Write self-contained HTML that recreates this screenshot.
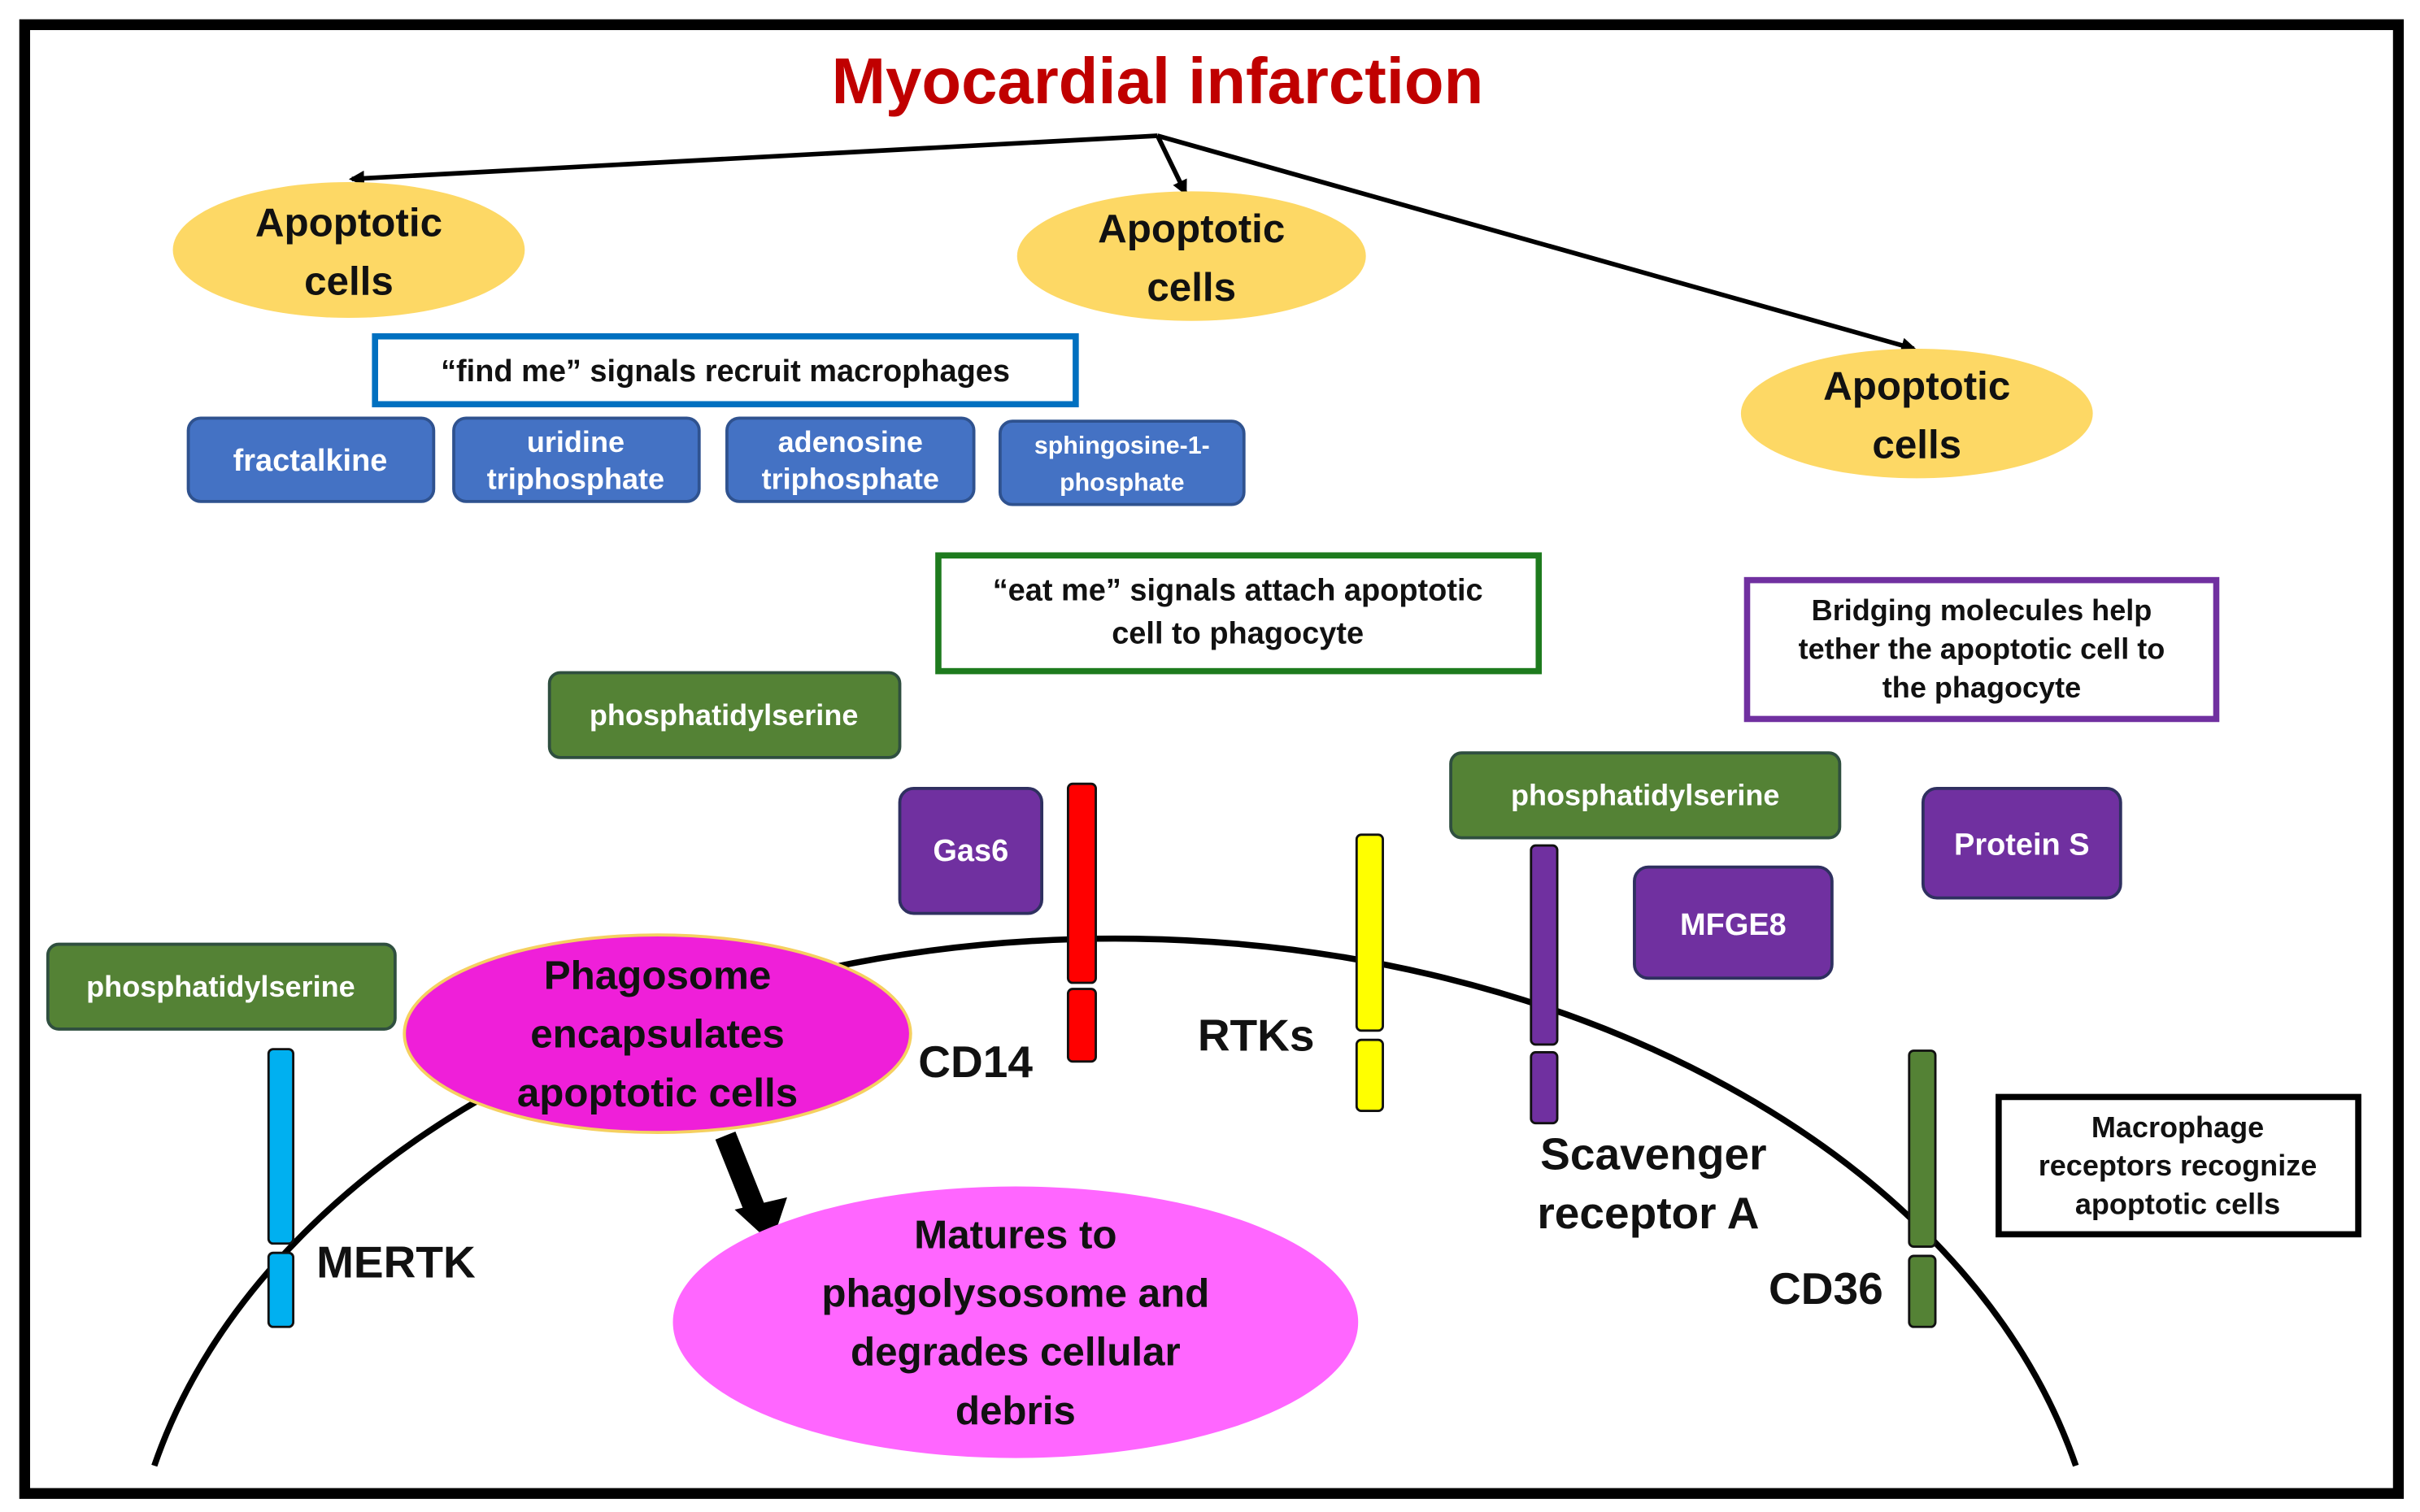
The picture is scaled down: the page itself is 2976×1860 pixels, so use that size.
<!DOCTYPE html>
<html><head><meta charset="utf-8"><style>
html,body{margin:0;padding:0;background:#fff;}
svg{display:block;}
text{font-family:"Liberation Sans",sans-serif;font-weight:bold;text-anchor:middle;}
</style></head><body>
<svg width="2976" height="1860" viewBox="0 0 1568 980" xmlns="http://www.w3.org/2000/svg">
<defs>
<marker id="ah" markerWidth="10" markerHeight="10" refX="8" refY="5" orient="auto" markerUnits="userSpaceOnUse"><path d="M0,0 L10,5 L0,10 z" fill="#000"/></marker>
</defs>
<rect x="0" y="0" width="1568" height="980" fill="#fff"/>
<rect x="16" y="16" width="1538" height="952" fill="none" stroke="#000" stroke-width="7"/>
<text x="750" y="67" font-size="42" fill="#c00000">Myocardial infarction</text>
<g stroke="#000" stroke-width="3" fill="none" marker-end="url(#ah)">
<line x1="750" y1="88" x2="228" y2="116"/>
<line x1="750" y1="88" x2="768" y2="125"/>
<line x1="750" y1="88" x2="1240" y2="226"/>
</g>
<g fill="#fdd865">
<ellipse cx="226" cy="162" rx="114" ry="44"/>
<ellipse cx="772" cy="166" rx="113" ry="42"/>
<ellipse cx="1242" cy="268" rx="114" ry="42"/>
</g>
<g font-size="26" fill="#111">
<text x="226" y="153">Apoptotic</text><text x="226" y="191">cells</text>
<text x="772" y="157">Apoptotic</text><text x="772" y="195">cells</text>
<text x="1242" y="259">Apoptotic</text><text x="1242" y="297">cells</text>
</g>
<rect x="243" y="218" width="454" height="44" fill="#fff" stroke="#0070c0" stroke-width="4"/>
<text x="470" y="247" font-size="20" fill="#111">“find me” signals recruit macrophages</text>
<g fill="#4472c4" stroke="#2f528f" stroke-width="2">
<rect x="122" y="271" width="159" height="54" rx="8"/>
<rect x="294" y="271" width="159" height="54" rx="8"/>
<rect x="471" y="271" width="160" height="54" rx="8"/>
<rect x="648" y="273" width="158" height="54" rx="8"/>
</g>
<g fill="#fff">
<text x="201" y="305" font-size="20">fractalkine</text>
<text x="373" y="293" font-size="19">uridine</text><text x="373" y="317" font-size="19">triphosphate</text>
<text x="551" y="293" font-size="19">adenosine</text><text x="551" y="317" font-size="19">triphosphate</text>
<text x="727" y="294" font-size="16">sphingosine-1-</text><text x="727" y="318" font-size="16">phosphate</text>
</g>
<rect x="608" y="360" width="389" height="75" fill="#fff" stroke="#1e7b1e" stroke-width="4"/>
<text x="802" y="389" font-size="20" fill="#111">“eat me” signals attach apoptotic</text>
<text x="802" y="417" font-size="20" fill="#111">cell to phagocyte</text>
<rect x="1132" y="376" width="304" height="90" fill="#fff" stroke="#7030a0" stroke-width="4"/>
<g font-size="19" fill="#111">
<text x="1284" y="402">Bridging molecules help</text>
<text x="1284" y="427">tether the apoptotic cell to</text>
<text x="1284" y="452">the phagocyte</text>
</g>
<path d="M100,950 A640,445 0 0 1 1345,950" fill="none" stroke="#000" stroke-width="4"/>
<g fill="#548235" stroke="#2f4f3f" stroke-width="2">
<rect x="356" y="436" width="227" height="55" rx="7"/>
<rect x="940" y="488" width="252" height="55" rx="7"/>
<rect x="31" y="612" width="225" height="55" rx="7"/>
</g>
<g fill="#fff" font-size="19">
<text x="469" y="470">phosphatidylserine</text>
<text x="1066" y="522">phosphatidylserine</text>
<text x="143" y="646">phosphatidylserine</text>
</g>
<g fill="#7030a0" stroke="#2f3060" stroke-width="2">
<rect x="583" y="511" width="92" height="81" rx="9"/>
<rect x="1059" y="562" width="128" height="72" rx="9"/>
<rect x="1246" y="511" width="128" height="71" rx="9"/>
</g>
<g fill="#fff" font-size="20">
<text x="629" y="558">Gas6</text>
<text x="1123" y="606">MFGE8</text>
<text x="1310" y="554">Protein S</text>
</g>
<g stroke="#111" stroke-width="1.5">
<rect x="174" y="680" width="16" height="126" rx="3" fill="#00b0f0"/><rect x="174" y="812" width="16" height="48" rx="3" fill="#00b0f0"/>
<rect x="692" y="508" width="18" height="129" rx="3" fill="#ff0000"/><rect x="692" y="641" width="18" height="47" rx="3" fill="#ff0000"/>
<rect x="879" y="541" width="17" height="127" rx="3" fill="#ffff00"/><rect x="879" y="674" width="17" height="46" rx="3" fill="#ffff00"/>
<rect x="992" y="548" width="17" height="129" rx="3" fill="#7030a0"/><rect x="992" y="682" width="17" height="46" rx="3" fill="#7030a0"/>
<rect x="1237" y="681" width="17" height="127" rx="3" fill="#548235"/><rect x="1237" y="814" width="17" height="46" rx="3" fill="#548235"/>
</g>
<g font-size="29" fill="#111">
<text x="205" y="828" style="text-anchor:start">MERTK</text>
<text x="595" y="698" style="text-anchor:start">CD14</text>
<text x="776" y="681" style="text-anchor:start">RTKs</text>
<text x="998" y="758" style="text-anchor:start">Scavenger</text>
<text x="996" y="796" style="text-anchor:start">receptor A</text>
<text x="1146" y="845" style="text-anchor:start">CD36</text>
</g>
<ellipse cx="426" cy="670" rx="164" ry="64" fill="#ef1fd9" stroke="#f5d060" stroke-width="2"/>
<g font-size="26" fill="#111">
<text x="426" y="641">Phagosome</text>
<text x="426" y="679">encapsulates</text>
<text x="426" y="717">apoptotic cells</text>
</g>
<line x1="470" y1="736" x2="490" y2="786" stroke="#000" stroke-width="14"/>
<path d="M476,784 L510,776 L500,806 z" fill="#000"/>
<ellipse cx="658" cy="857" rx="222" ry="88" fill="#ff66ff"/>
<g font-size="26" fill="#111">
<text x="658" y="809">Matures to</text>
<text x="658" y="847">phagolysosome and</text>
<text x="658" y="885">degrades cellular</text>
<text x="658" y="923">debris</text>
</g>
<rect x="1295" y="711" width="233" height="89" fill="#fff" stroke="#000" stroke-width="4"/>
<g font-size="19" fill="#111">
<text x="1411" y="737">Macrophage</text>
<text x="1411" y="762">receptors recognize</text>
<text x="1411" y="787">apoptotic cells</text>
</g>
</svg>
</body></html>
